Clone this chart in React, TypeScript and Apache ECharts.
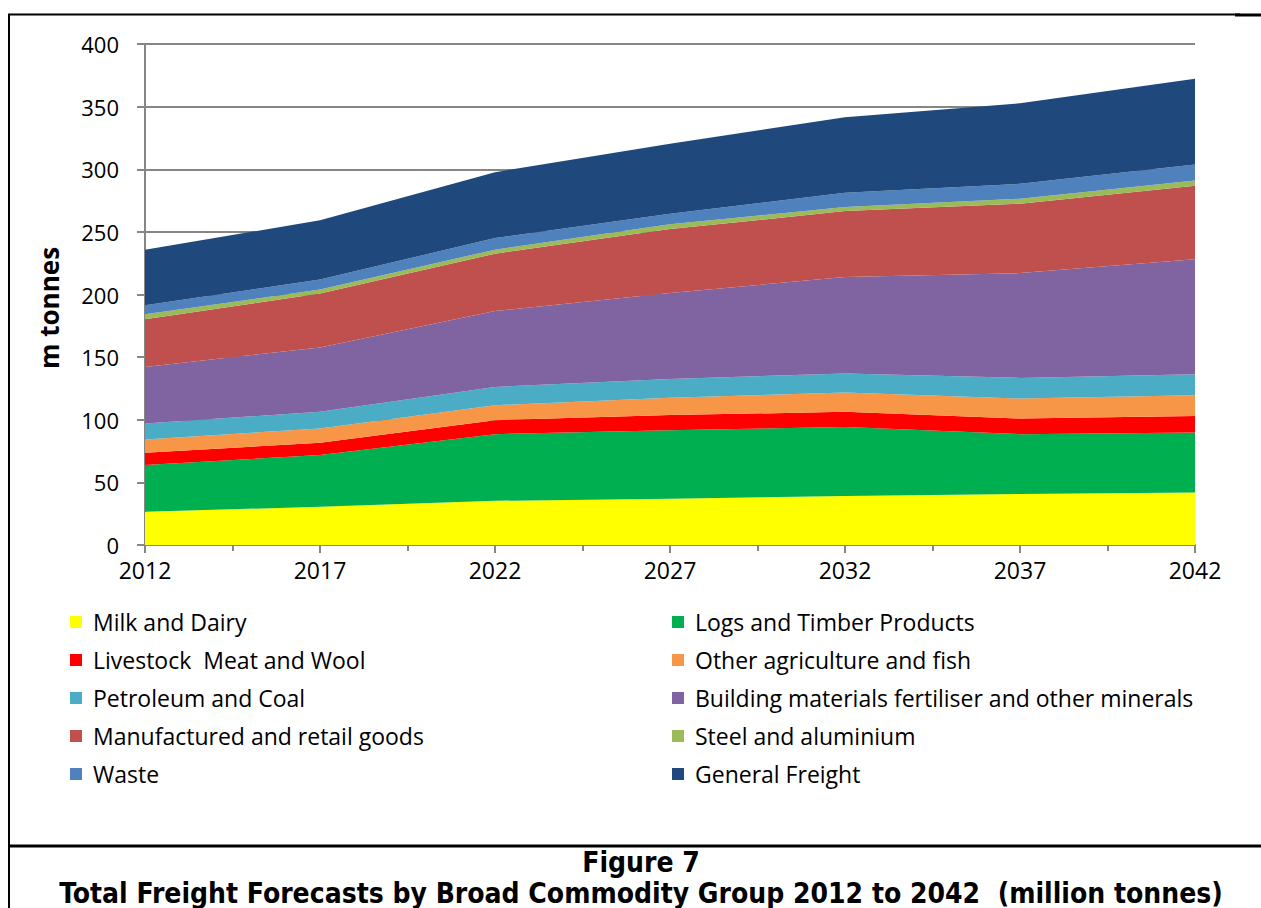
import React, { useEffect, useRef } from "react";
import * as echarts from "echarts";

const years = ["2012", "2017", "2022", "2027", "2032", "2037", "2042"];
const milkDairy = [26.6, 30.5, 35.3, 36.9, 39.1, 40.7, 42.0];
const logsTimber = [37.2, 41.3, 53.2, 54.8, 55.2, 47.8, 47.9];
const livestock = [9.8, 9.8, 11.2, 12.0, 12.0, 12.5, 13.0];
const otherAgri = [10.7, 11.5, 11.9, 13.8, 15.5, 16.0, 16.7];
const petroleum = [12.8, 13.2, 14.6, 15.1, 15.1, 16.4, 16.8];
const building = [45.1, 51.4, 60.6, 68.6, 77.1, 83.7, 91.7];
const manufactured = [38.0, 43.0, 45.8, 51.0, 52.6, 55.4, 58.7];
const steel = [4.0, 3.2, 3.2, 3.8, 3.2, 4.0, 4.3];
const waste = [7.2, 8.0, 9.3, 8.5, 11.5, 11.9, 12.7];
const generalFreight = [44.4, 47.3, 52.6, 55.8, 60.3, 64.3, 68.4];

const seriesDefs = [
  { name: "Milk and Dairy", data: milkDairy, color: "#FFFF00" },
  { name: "Logs and Timber Products", data: logsTimber, color: "#00B050" },
  { name: "Livestock  Meat and Wool", data: livestock, color: "#FF0000" },
  { name: "Other agriculture and fish", data: otherAgri, color: "#F79646" },
  { name: "Petroleum and Coal", data: petroleum, color: "#4BACC6" },
  { name: "Building materials fertiliser and other minerals", data: building, color: "#8064A2" },
  { name: "Manufactured and retail goods", data: manufactured, color: "#C0504D" },
  { name: "Steel and aluminium", data: steel, color: "#9BBB59" },
  { name: "Waste", data: waste, color: "#4F81BD" },
  { name: "General Freight", data: generalFreight, color: "#1F497D" },
];

const legendLeft = [
  "Milk and Dairy",
  "Livestock  Meat and Wool",
  "Petroleum and Coal",
  "Manufactured and retail goods",
  "Waste",
];
const legendRight = [
  "Logs and Timber Products",
  "Other agriculture and fish",
  "Building materials fertiliser and other minerals",
  "Steel and aluminium",
  "General Freight",
];

const FONT = "'Open Sans', 'Noto Sans', sans-serif";
const TITLE_FONT = "'DejaVu Sans Condensed', 'DejaVu Sans', sans-serif";
const AXIS_GRAY = "#868686";

export default function App() {
  const ref = useRef<HTMLDivElement>(null);
  useEffect(() => {
    if (!ref.current) return;
    const chart = echarts.init(ref.current, null, { renderer: "svg" });
    const legendCommon = {
      orient: "vertical",
      icon: "rect",
      itemWidth: 12,
      itemHeight: 12,
      itemGap: 14,
      padding: 0,
      selectedMode: false,
      textStyle: {
        fontFamily: FONT,
        fontSize: 23,
        color: "#000",
        lineHeight: 24,
        padding: [0, 0, 0, 6],
      },
    };
    const minorAxis = (inside: boolean, len: number) => ({
      type: "value",
      min: 2012,
      max: 2042,
      interval: 5,
      position: "bottom",
      axisLine: { show: false, onZero: false },
      axisTick: { show: false, inside },
      minorTick: { show: true, splitNumber: 2, length: len, lineStyle: { color: AXIS_GRAY, width: 2 } },
      splitLine: { show: false },
      minorSplitLine: { show: false },
      axisLabel: { show: false },
    });
    chart.setOption({
      animation: false,
      backgroundColor: "#fff",
      grid: {
        left: 145,
        right: 66,
        top: 44,
        bottom: 363,
        containLabel: false,
        outerBoundsMode: "none",
      },
      legend: [
        { ...legendCommon, left: 70, top: 610, data: legendLeft },
        { ...legendCommon, left: 672, top: 610, data: legendRight },
      ],
      xAxis: [
        {
          type: "category",
          data: years,
          boundaryGap: false,
          position: "bottom",
          axisLine: { onZero: false, lineStyle: { color: AXIS_GRAY, width: 2 } },
          axisTick: { show: true, length: 8, alignWithLabel: true, lineStyle: { color: AXIS_GRAY, width: 2 } },
          splitLine: { show: false },
          axisLabel: {
            fontFamily: FONT,
            fontSize: 23,
            color: "#000",
            margin: 13,
            interval: 0,
          },
        },
        minorAxis(false, 6),
        minorAxis(true, 7),
      ],
      yAxis: {
        type: "value",
        min: 0,
        max: 400,
        interval: 50,
        axisLine: { show: true, lineStyle: { color: AXIS_GRAY, width: 2 } },
        axisTick: { show: true, length: 8, lineStyle: { color: AXIS_GRAY, width: 2 } },
        splitLine: { show: true, lineStyle: { color: AXIS_GRAY, width: 2 } },
        axisLabel: { fontFamily: FONT, fontSize: 22, color: "#000", margin: 26 },
      },
      series: seriesDefs.map((s) => ({
        name: s.name,
        type: "line",
        stack: "total",
        xAxisIndex: 0,
        data: s.data,
        showSymbol: false,
        symbol: "none",
        lineStyle: { width: 0 },
        itemStyle: { color: s.color },
        areaStyle: { color: s.color, opacity: 1 },
        emphasis: { disabled: true },
      })),
      graphic: [
        { type: "line", shape: { x1: 8, y1: 14.5, x2: 1240, y2: 14.5 }, style: { stroke: "#000", lineWidth: 2 } },
        { type: "line", shape: { x1: 1235, y1: 15, x2: 1261, y2: 15 }, style: { stroke: "#000", lineWidth: 3 } },
        { type: "line", shape: { x1: 9, y1: 14, x2: 9, y2: 908 }, style: { stroke: "#000", lineWidth: 2 } },
        { type: "line", shape: { x1: 8, y1: 846, x2: 1261, y2: 846 }, style: { stroke: "#000", lineWidth: 3 } },
        {
          type: "text",
          x: 49,
          y: 308,
          rotation: Math.PI / 2,
          style: {
            text: "m tonnes",
            fontFamily: FONT,
            fontWeight: "bold",
            fontSize: 26,
            fill: "#000",
            align: "center",
            verticalAlign: "middle",
          },
        },
        {
          type: "text",
          x: 641,
          y: 862,
          style: {
            text: "Figure 7",
            fontFamily: TITLE_FONT,
            fontWeight: "bold",
            fontSize: 28,
            fill: "#000",
            align: "center",
            verticalAlign: "middle",
          },
        },
        {
          type: "text",
          x: 641,
          y: 893,
          style: {
            text: "Total Freight Forecasts by Broad Commodity Group 2012 to 2042  (million tonnes)",
            fontFamily: TITLE_FONT,
            fontWeight: "bold",
            fontSize: 28,
            fill: "#000",
            align: "center",
            verticalAlign: "middle",
          },
        },
      ],
    });
    return () => chart.dispose();
  }, []);
  return (
    <div
      ref={ref}
      style={{ position: "absolute", left: 0, top: 0, width: 1261, height: 908 }}
    />
  );
}
